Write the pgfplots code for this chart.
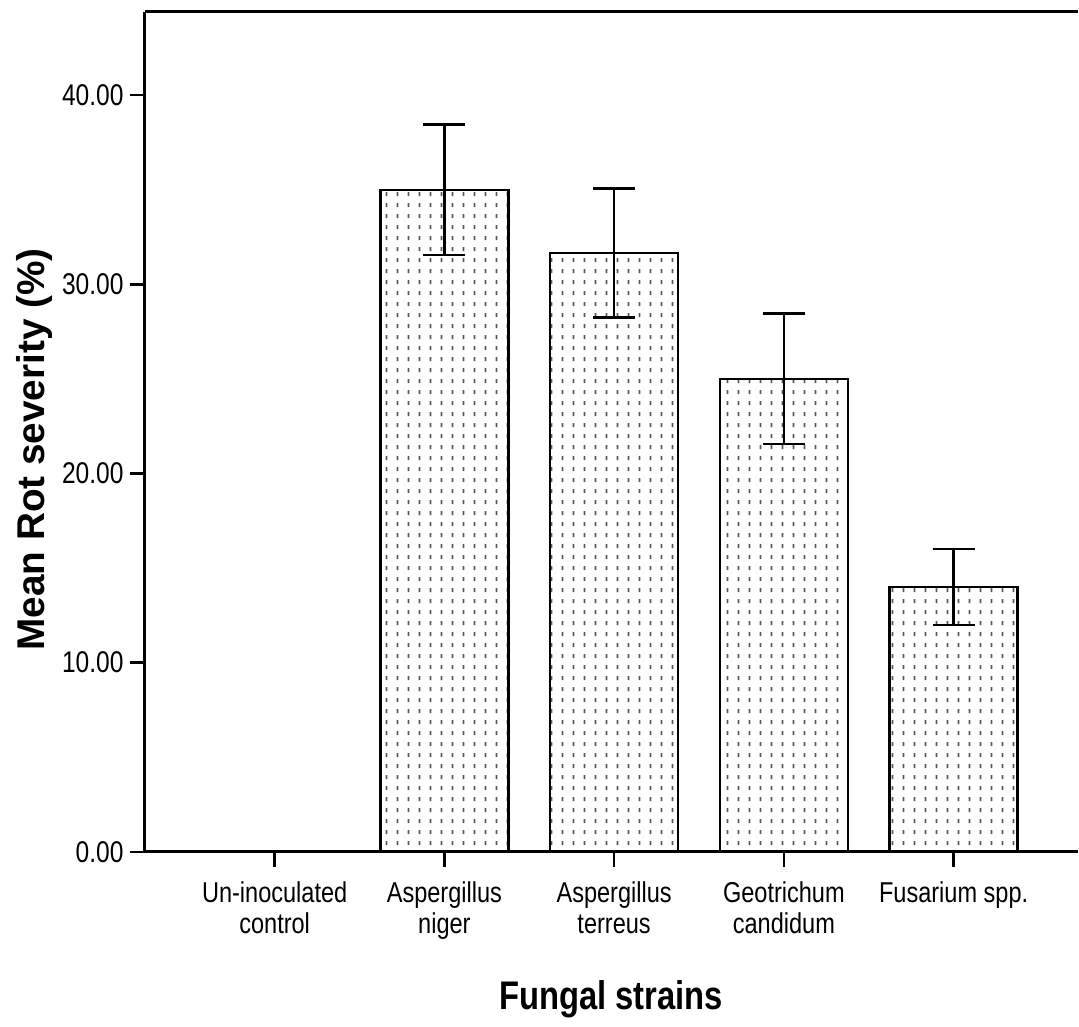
\documentclass[border=0pt]{standalone}
\usepackage{fontspec}
\setmainfont[FakeStretch=0.82]{Liberation Sans}
\newfontfamily\widefont{Liberation Sans}
\usepackage{pgfplots}
\pgfplotsset{compat=1.18}
\usetikzlibrary{patterns.meta}

\tikzdeclarepattern{
  name=vdots,
  type=uncolored,
  bounding box={(0pt,0pt) and (4.5pt,4.2pt)},
  tile size={(4.5pt,4.2pt)},
  code={\fill (2pt,1.2pt) rectangle (2.7pt,2.9pt);}
}

\begin{document}
\begin{tikzpicture}
\begin{axis}[
    name=main,
    scale only axis,
    width=373.6pt,
    height=336.4pt,
    axis x line*=box,
    axis y line*=left,
    axis line style={line width=1.2pt},
    xmin=-0.765, xmax=4.73,
    ymin=0, ymax=44.4,
    xtick={0,1,2,3,4},
    xticklabels={Un-inoculated\\control, Aspergillus\\niger, Aspergillus\\terreus, Geotrichum\\candidum, Fusarium spp.},
    xtick pos=bottom,
    ytick pos=left,
    ytick={0,10,20,30,40},
    tick align=outside,
    major tick length=6pt,
    tick style={line width=1pt, black},
    xticklabel style={align=center, font=\fontsize{11.5}{12.5}\selectfont, yshift=-2.4pt},
    yticklabel style={font=\fontsize{12}{14}\selectfont, xshift=1pt},
    /pgf/number format/assume math mode=true,
    yticklabel={\pgfmathprintnumber[fixed, fixed zerofill, precision=2]{\tick}},
    xlabel={\fontsize{16}{18}\selectfont\bfseries Fungal strains},
    ylabel={\widefont\fontsize{15.5}{18}\selectfont\bfseries Mean Rot severity (\%)},
    xlabel style={yshift=-9.6pt},
    ylabel style={yshift=-3pt, xshift=-7pt},
]
\addplot[
    ybar, bar width=51.2pt, draw=black, line width=1pt,
    pattern=vdots, pattern color=black!65,
    error bars/.cd, y dir=both, y explicit,
    error bar style={line width=1pt, black},
    error mark options={rotate=90, mark size=8.4pt, line width=1pt, black},
] coordinates {
    (1,35.0) +- (0,3.45)
    (2,31.66) +- (0,3.4)
    (3,25.0) +- (0,3.45)
    (4,14.0) +- (0,2.0)
};
\end{axis}
\draw[line width=1.2pt] (main.north west) -- (main.north east);
\path ([shift={(-58pt,-63.6pt)}]main.south west) ([yshift=4.8pt]main.north east);
\end{tikzpicture}
\end{document}
